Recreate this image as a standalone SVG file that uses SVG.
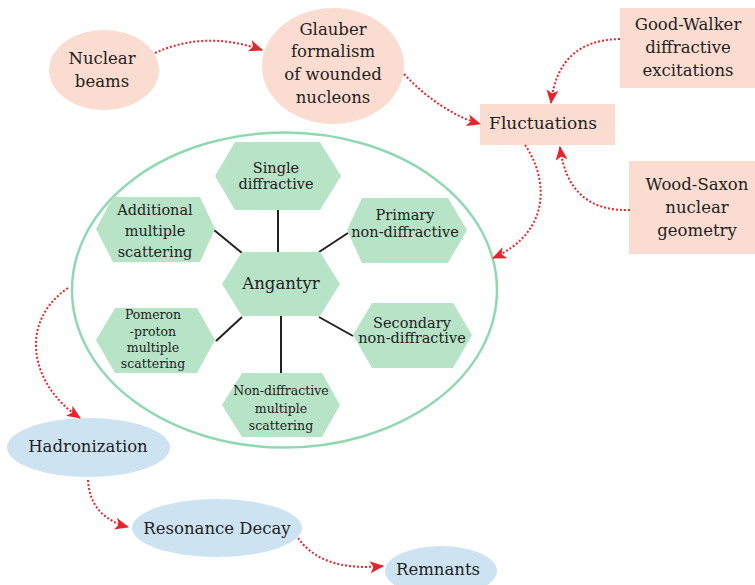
<svg xmlns="http://www.w3.org/2000/svg" width="755" height="585" viewBox="0 0 755 585">
<defs>
<style>
text{font-family:"DejaVu Serif","Liberation Serif",serif;fill:#222;text-anchor:middle}
.peach{fill:#fbdcd0}
.hex{fill:#b7e3c6}
.blue{fill:#cde3f2}
.arrow{fill:none;stroke:#e8232b;stroke-width:2;stroke-dasharray:2 2;marker-end:url(#ah)}
.spoke{stroke:#222;stroke-width:2}
.t16{font-size:16.5px}
.t15{font-size:14.5px}
.t13{font-size:12.5px}
</style>
<marker id="ah" viewBox="0 0 14 12" refX="13" refY="6" markerWidth="14" markerHeight="12" markerUnits="userSpaceOnUse" orient="auto">
<path d="M0,0 L14,6 L0,12 L3.5,6 Z" fill="#e8232b"/>
</marker>
</defs>
<rect width="755" height="585" fill="#fff"/>

<g id="nuclear-beams">
<ellipse class="peach" cx="104" cy="70" rx="55" ry="40"/>
<text class="t16" x="102" y="64">Nuclear</text>
<text class="t16" x="102" y="87">beams</text>
</g>

<g id="glauber">
<ellipse class="peach" cx="333" cy="66" rx="71" ry="58"/>
<text class="t16" x="333" y="35">Glauber</text>
<text class="t16" x="333" y="57">formalism</text>
<text class="t16" x="333" y="80">of wounded</text>
<text class="t16" x="333" y="103">nucleons</text>
</g>

<g id="good-walker">
<rect class="peach" x="620" y="8" width="135" height="80"/>
<text class="t16" x="688" y="30">Good-Walker</text>
<text class="t16" x="688" y="53">diffractive</text>
<text class="t16" x="688" y="76">excitations</text>
</g>

<g id="fluctuations">
<rect class="peach" x="480" y="104" width="135" height="41"/>
<text x="543" y="129" style="font-size:17px">Fluctuations</text>
</g>

<g id="wood-saxon">
<rect class="peach" x="629" y="161" width="126" height="93"/>
<text class="t16" x="697" y="190">Wood-Saxon</text>
<text class="t16" x="697" y="213">nuclear</text>
<text class="t16" x="697" y="236">geometry</text>
</g>

<g id="angantyr-group">
<ellipse cx="284.5" cy="290" rx="212.5" ry="157.5" fill="none" stroke="#8fd9b1" stroke-width="2.5"/>
</g>

<g id="spokes">
<line class="spoke" x1="278" y1="210" x2="278" y2="252"/>
<line class="spoke" x1="214" y1="230" x2="242" y2="253"/>
<line class="spoke" x1="348" y1="233" x2="319" y2="252"/>
<line class="spoke" x1="216" y1="341" x2="242" y2="317"/>
<line class="spoke" x1="281" y1="316" x2="281" y2="373"/>
<line class="spoke" x1="319" y1="317" x2="353" y2="336"/>
</g>

<g id="single-diffractive">
<polygon class="hex" points="235,142 320,142 341,176 320,210 235,210 215,176"/>
<text class="t15" x="276" y="173">Single</text>
<text class="t15" x="276" y="189">diffractive</text>
</g>

<g id="additional-multiple">
<polygon class="hex" points="113,197 200,197 215,229 200,262 113,262 96,229"/>
<text class="t15" x="155" y="215">Additional</text>
<text class="t15" x="155" y="236">multiple</text>
<text class="t15" x="155" y="257">scattering</text>
</g>

<g id="primary-non-diffractive">
<polygon class="hex" points="362,198 448,198 467,230 448,263 362,263 347,230"/>
<text class="t15" x="405" y="220">Primary</text>
<text class="t15" x="405" y="237">non-diffractive</text>
</g>

<g id="angantyr">
<polygon class="hex" points="242,252 320,252 340,284 320,316 242,316 222,284"/>
<text x="281" y="289" style="font-size:16.5px">Angantyr</text>
</g>

<g id="pomeron-proton">
<polygon class="hex" points="115,308 197,308 215,340 197,373 115,373 96,340"/>
<text class="t13" x="153" y="319">Pomeron</text>
<text class="t13" x="153" y="336">-proton</text>
<text class="t13" x="153" y="352">multiple</text>
<text class="t13" x="153" y="368">scattering</text>
</g>

<g id="secondary-non-diffractive">
<polygon class="hex" points="372,303 453,303 472,335 453,368 372,368 353,335"/>
<text class="t15" x="412" y="328">Secondary</text>
<text class="t15" x="412" y="343">non-diffractive</text>
</g>

<g id="non-diffractive-multiple">
<polygon class="hex" points="242,373 322,373 340,405 322,437 242,437 222,405"/>
<text class="t13" x="281" y="395">Non-diffractive</text>
<text class="t13" x="281" y="413">multiple</text>
<text class="t13" x="281" y="430">scattering</text>
</g>

<g id="hadronization">
<ellipse class="blue" cx="88.5" cy="447.5" rx="81.5" ry="29.5"/>
<text class="t16" x="88" y="452">Hadronization</text>
</g>

<g id="resonance-decay">
<ellipse class="blue" cx="217" cy="528" rx="85" ry="29"/>
<text class="t16" x="217" y="534">Resonance Decay</text>
</g>

<g id="remnants">
<ellipse class="blue" cx="441" cy="571" rx="56" ry="25"/>
<text class="t16" x="438" y="575">Remnants</text>
</g>

<g id="connectors">
<path class="arrow" d="M155,53 Q205,30 262,50"/>
<path class="arrow" d="M404,74 Q440,112 480,124"/>
<path class="arrow" d="M620,39 Q558,40 551,103"/>
<path class="arrow" d="M630,210 Q568,212 560,147"/>
<path class="arrow" d="M525,145 C548,178 552,232 493,258"/>
<path class="arrow" d="M68,288 C18,322 30,385 80,418"/>
<path class="arrow" d="M88,480 Q90,517 128,527"/>
<path class="arrow" d="M298,538 Q322,572 383,566"/>
</g>
</svg>
